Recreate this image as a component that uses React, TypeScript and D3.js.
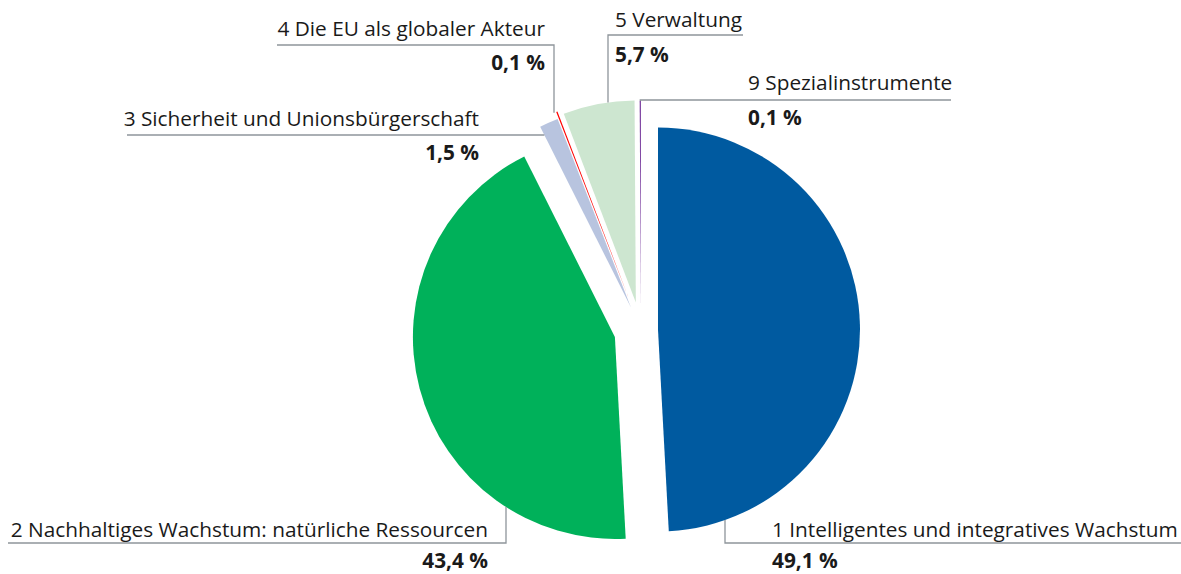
import React from "react";
import * as d3 from "d3";

const categories = [
  "1 Intelligentes und integratives Wachstum",
  "2 Nachhaltiges Wachstum: natürliche Ressourcen",
  "3 Sicherheit und Unionsbürgerschaft",
  "4 Die EU als globaler Akteur",
  "5 Verwaltung",
  "9 Spezialinstrumente",
];
const values = [49.1, 43.4, 1.5, 0.1, 5.7, 0.1];
const valueLabels = ["49,1 %", "43,4 %", "1,5 %", "0,1 %", "5,7 %", "0,1 %"];

const colors = ["#005AA0", "#00B15A", "#B8C4DF", "#FF0000", "#CDE6D0", "#7B3FA0"];
const explode = [17, 27, 25, 32, 28, 27];

const W = 1181;
const H = 574;
const CX = 641;
const CY = 330;
const R = 202;
const FONT = "'Open Sans', 'Noto Sans', sans-serif";
const FS = 20.8;
const LINE = "#8E959B";

type Lab = {
  nx: number; ny: number; vx: number; vy: number; anchor: "start" | "end";
  ux0: number; uy: number; ux1: number; mode: "vertTop" | "vertBottom" | "edge" | "point";
};
const layout: Lab[] = [
  { nx: 772, ny: 537, vx: 772, vy: 568, anchor: "start", ux0: W, uy: 543, ux1: 725, mode: "vertBottom" },
  { nx: 488, ny: 537, vx: 488, vy: 568, anchor: "end", ux0: 8, uy: 543, ux1: 506, mode: "vertBottom" },
  { nx: 479, ny: 126, vx: 479, vy: 160, anchor: "end", ux0: 127, uy: 135, ux1: 0, mode: "edge" },
  { nx: 545, ny: 36, vx: 545, vy: 70, anchor: "end", ux0: 277, uy: 45, ux1: 554, mode: "vertTop" },
  { nx: 615, ny: 27, vx: 615, vy: 62, anchor: "start", ux0: 743, uy: 35, ux1: 608, mode: "vertTop" },
  { nx: 748, ny: 90, vx: 748, vy: 125, anchor: "start", ux0: 951, uy: 100, ux1: 0, mode: "point" },
];

export default function App() {
  const pie = d3.pie<number>().sort(null).value((d) => d).startAngle(0).endAngle(2 * Math.PI);
  const arcs = pie(values);
  const arcGen = d3.arc<d3.PieArcDatum<number>>().innerRadius(0).outerRadius(R);

  const apex = arcs.map((a, i) => {
    const mid = (a.startAngle + a.endAngle) / 2;
    return [CX + explode[i] * Math.sin(mid), CY - explode[i] * Math.cos(mid)];
  });

  const leaders = layout.map((L, i) => {
    const [ax, ay] = apex[i];
    const a = arcs[i];
    let pts: [number, number][] = [];
    if (L.mode === "vertTop" || L.mode === "vertBottom") {
      const dx = L.ux1 - ax;
      const dy = Math.sqrt(Math.max(0, R * R - dx * dx));
      const ey = L.mode === "vertTop" ? ay - dy : ay + dy;
      pts = [[L.ux0, L.uy], [L.ux1, L.uy], [L.ux1, ey]];
    } else if (L.mode === "edge") {
      const ang = a.startAngle;
      const t = (ay - L.uy) / Math.cos(ang);
      const ex = ax + t * Math.sin(ang);
      pts = [[L.ux0, L.uy], [ex, L.uy]];
    } else {
      const mid = (a.startAngle + a.endAngle) / 2;
      const px = ax + R * Math.sin(mid);
      const py = ay - R * Math.cos(mid);
      pts = [[L.ux0, L.uy], [px, L.uy], [px, py]];
    }
    return d3.line()(pts) as string;
  });

  return (
    <svg
      width={W}
      height={H}
      viewBox={`0 0 ${W} ${H}`}
      style={{ position: "absolute", left: 0, top: 0, background: "#fff" }}
    >
      <rect x={0} y={0} width={W} height={H} fill="#fff" />
      {arcs.map((a, i) => (
        <path
          key={i}
          d={arcGen(a) as string}
          transform={`translate(${apex[i][0]},${apex[i][1]})`}
          fill={colors[i]}
        />
      ))}
      {leaders.map((d, i) => (
        <path key={"l" + i} d={d} fill="none" stroke={LINE} strokeWidth={1.3} />
      ))}
      {layout.map((L, i) => (
        <g key={"t" + i} fontFamily={FONT} fill="#1a1a1a">
          <text x={L.nx} y={L.ny} textAnchor={L.anchor} fontSize={FS}>
            {categories[i]}
          </text>
          <text x={L.vx} y={L.vy} textAnchor={L.anchor} fontSize={FS} fontWeight="bold">
            {valueLabels[i]}
          </text>
        </g>
      ))}
    </svg>
  );
}
